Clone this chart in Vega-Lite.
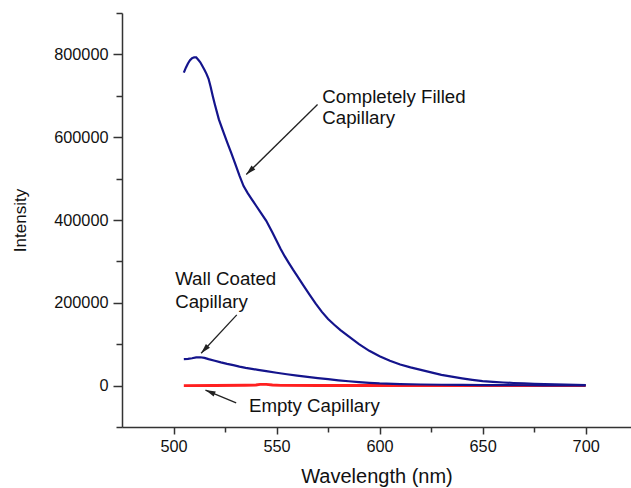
{
  "$schema": "https://vega.github.io/schema/vega-lite/v6.json",
  "width": 509,
  "height": 414,
  "autosize": {"type": "none"},
  "padding": {"left": 122, "top": 13, "right": 0, "bottom": 61},
  "background": "white",
  "config": {"view": {"stroke": null}, "font": "Liberation Sans"},
  "datasets": {
    "spectra": [
      {"series": "empty", "wavelength": 505, "intensity": 0},
      {"series": "empty", "wavelength": 520, "intensity": 300},
      {"series": "empty", "wavelength": 535, "intensity": 800},
      {"series": "empty", "wavelength": 540, "intensity": 1500},
      {"series": "empty", "wavelength": 542, "intensity": 3000},
      {"series": "empty", "wavelength": 545, "intensity": 3000},
      {"series": "empty", "wavelength": 548, "intensity": 1500},
      {"series": "empty", "wavelength": 552, "intensity": 500},
      {"series": "empty", "wavelength": 570, "intensity": 300},
      {"series": "empty", "wavelength": 600, "intensity": 200},
      {"series": "empty", "wavelength": 630, "intensity": 0},
      {"series": "empty", "wavelength": 660, "intensity": 100},
      {"series": "empty", "wavelength": 700, "intensity": 0},
      {"series": "coated", "wavelength": 505, "intensity": 64000},
      {"series": "coated", "wavelength": 507, "intensity": 64500},
      {"series": "coated", "wavelength": 509, "intensity": 66000},
      {"series": "coated", "wavelength": 511, "intensity": 68000},
      {"series": "coated", "wavelength": 513, "intensity": 68500},
      {"series": "coated", "wavelength": 515, "intensity": 67000},
      {"series": "coated", "wavelength": 517, "intensity": 64000},
      {"series": "coated", "wavelength": 520, "intensity": 60000},
      {"series": "coated", "wavelength": 523, "intensity": 56000},
      {"series": "coated", "wavelength": 526, "intensity": 52500},
      {"series": "coated", "wavelength": 529, "intensity": 49500},
      {"series": "coated", "wavelength": 532, "intensity": 46000},
      {"series": "coated", "wavelength": 535, "intensity": 43000},
      {"series": "coated", "wavelength": 538, "intensity": 40500},
      {"series": "coated", "wavelength": 541, "intensity": 38000},
      {"series": "coated", "wavelength": 545, "intensity": 35000},
      {"series": "coated", "wavelength": 550, "intensity": 31000},
      {"series": "coated", "wavelength": 555, "intensity": 27500},
      {"series": "coated", "wavelength": 560, "intensity": 24000},
      {"series": "coated", "wavelength": 565, "intensity": 21000},
      {"series": "coated", "wavelength": 570, "intensity": 18000},
      {"series": "coated", "wavelength": 575, "intensity": 15500},
      {"series": "coated", "wavelength": 580, "intensity": 12800},
      {"series": "coated", "wavelength": 585, "intensity": 10500},
      {"series": "coated", "wavelength": 590, "intensity": 8500},
      {"series": "coated", "wavelength": 595, "intensity": 6800},
      {"series": "coated", "wavelength": 600, "intensity": 5300},
      {"series": "coated", "wavelength": 610, "intensity": 3600},
      {"series": "coated", "wavelength": 620, "intensity": 2700},
      {"series": "coated", "wavelength": 630, "intensity": 2000},
      {"series": "coated", "wavelength": 640, "intensity": 1600},
      {"series": "coated", "wavelength": 650, "intensity": 1200},
      {"series": "coated", "wavelength": 660, "intensity": 1000},
      {"series": "coated", "wavelength": 670, "intensity": 800},
      {"series": "coated", "wavelength": 680, "intensity": 600},
      {"series": "coated", "wavelength": 690, "intensity": 500},
      {"series": "coated", "wavelength": 700, "intensity": 400},
      {"series": "filled", "wavelength": 505, "intensity": 756000},
      {"series": "filled", "wavelength": 506, "intensity": 768000},
      {"series": "filled", "wavelength": 507, "intensity": 778000},
      {"series": "filled", "wavelength": 508, "intensity": 786000},
      {"series": "filled", "wavelength": 509, "intensity": 791000},
      {"series": "filled", "wavelength": 510, "intensity": 793000},
      {"series": "filled", "wavelength": 511, "intensity": 793000},
      {"series": "filled", "wavelength": 512, "intensity": 787000},
      {"series": "filled", "wavelength": 513, "intensity": 781000},
      {"series": "filled", "wavelength": 514, "intensity": 772000},
      {"series": "filled", "wavelength": 515, "intensity": 763000},
      {"series": "filled", "wavelength": 516, "intensity": 753000},
      {"series": "filled", "wavelength": 517, "intensity": 741000},
      {"series": "filled", "wavelength": 518, "intensity": 722000},
      {"series": "filled", "wavelength": 519, "intensity": 700000},
      {"series": "filled", "wavelength": 520, "intensity": 680000},
      {"series": "filled", "wavelength": 522, "intensity": 643000},
      {"series": "filled", "wavelength": 524, "intensity": 615000},
      {"series": "filled", "wavelength": 526, "intensity": 588000},
      {"series": "filled", "wavelength": 528, "intensity": 562000},
      {"series": "filled", "wavelength": 530, "intensity": 535000},
      {"series": "filled", "wavelength": 532, "intensity": 507000},
      {"series": "filled", "wavelength": 534, "intensity": 482000},
      {"series": "filled", "wavelength": 536, "intensity": 465000},
      {"series": "filled", "wavelength": 538, "intensity": 450000},
      {"series": "filled", "wavelength": 540, "intensity": 435000},
      {"series": "filled", "wavelength": 542, "intensity": 420000},
      {"series": "filled", "wavelength": 545, "intensity": 398000},
      {"series": "filled", "wavelength": 548, "intensity": 370000},
      {"series": "filled", "wavelength": 550, "intensity": 350000},
      {"series": "filled", "wavelength": 552, "intensity": 330000},
      {"series": "filled", "wavelength": 554, "intensity": 312000},
      {"series": "filled", "wavelength": 556, "intensity": 296000},
      {"series": "filled", "wavelength": 558, "intensity": 280000},
      {"series": "filled", "wavelength": 560, "intensity": 265000},
      {"series": "filled", "wavelength": 563, "intensity": 242000},
      {"series": "filled", "wavelength": 566, "intensity": 220000},
      {"series": "filled", "wavelength": 569, "intensity": 198000},
      {"series": "filled", "wavelength": 572, "intensity": 178000},
      {"series": "filled", "wavelength": 575, "intensity": 161000},
      {"series": "filled", "wavelength": 578, "intensity": 147000},
      {"series": "filled", "wavelength": 581, "intensity": 134000},
      {"series": "filled", "wavelength": 585, "intensity": 119000},
      {"series": "filled", "wavelength": 590, "intensity": 100000},
      {"series": "filled", "wavelength": 595, "intensity": 84000},
      {"series": "filled", "wavelength": 600, "intensity": 71000},
      {"series": "filled", "wavelength": 605, "intensity": 60000},
      {"series": "filled", "wavelength": 610, "intensity": 51000},
      {"series": "filled", "wavelength": 615, "intensity": 44000},
      {"series": "filled", "wavelength": 620, "intensity": 38000},
      {"series": "filled", "wavelength": 625, "intensity": 32000},
      {"series": "filled", "wavelength": 630, "intensity": 26000},
      {"series": "filled", "wavelength": 635, "intensity": 21500},
      {"series": "filled", "wavelength": 640, "intensity": 17500},
      {"series": "filled", "wavelength": 645, "intensity": 14000},
      {"series": "filled", "wavelength": 650, "intensity": 11000},
      {"series": "filled", "wavelength": 655, "intensity": 9000},
      {"series": "filled", "wavelength": 660, "intensity": 7500},
      {"series": "filled", "wavelength": 665, "intensity": 6300},
      {"series": "filled", "wavelength": 670, "intensity": 5200},
      {"series": "filled", "wavelength": 675, "intensity": 4300},
      {"series": "filled", "wavelength": 680, "intensity": 3500},
      {"series": "filled", "wavelength": 685, "intensity": 2800},
      {"series": "filled", "wavelength": 690, "intensity": 2200},
      {"series": "filled", "wavelength": 695, "intensity": 1600},
      {"series": "filled", "wavelength": 700, "intensity": 1000}
    ],
    "labels": [
      {"text": "Completely Filled", "wavelength": 572.2, "intensity": 683300},
      {"text": "Capillary", "wavelength": 572.2, "intensity": 632500},
      {"text": "Wall Coated", "wavelength": 500.8, "intensity": 243300},
      {"text": "Capillary", "wavelength": 500.8, "intensity": 187700},
      {"text": "Empty Capillary", "wavelength": 536.6, "intensity": -63400}
    ],
    "arrows": [
      {"wavelength": 569.9, "intensity": 679000, "wavelength2": 535.3, "intensity2": 509700, "angle": 225.5},
      {"wavelength": 530.7, "intensity": 170700, "wavelength2": 513.4, "intensity2": 78000, "angle": 222.9},
      {"wavelength": 530.4, "intensity": -41600, "wavelength2": 515.5, "intensity2": -10900, "angle": 292.5}
    ]
  },
  "layer": [
    {
      "data": {"name": "spectra"},
      "transform": [{"filter": "datum.series === 'empty'"}],
      "mark": {"type": "line", "color": "#ff2020", "strokeWidth": 2.8},
      "encoding": {
        "x": {
          "field": "wavelength", "type": "quantitative", "title": "Wavelength (nm)",
          "scale": {"domain": [475, 722], "nice": false, "zero": false},
          "axis": {
            "values": [500, 525, 550, 575, 600, 625, 650, 675, 700],
            "format": "d",
            "labelExpr": "datum.value % 50 === 0 ? datum.label : ''",
            "tickSize": {"condition": {"test": "datum.value % 50 === 0", "value": 7}, "value": 5},
            "tickColor": "#333", "domainColor": "#333", "domainWidth": 1.5, "tickWidth": 1.5,
            "grid": false, "labelFontSize": 16.3, "labelColor": "#111", "labelPadding": 4,
            "labelFlush": false, "labelOverlap": false,
            "titleFontSize": 20, "titleFontWeight": "normal", "titleColor": "#111", "titlePadding": 12
          }
        },
        "y": {
          "field": "intensity", "type": "quantitative", "title": "Intensity",
          "scale": {"domain": [-100000, 900000], "nice": false, "zero": false},
          "axis": {
            "values": [-100000, 0, 100000, 200000, 300000, 400000, 500000, 600000, 700000, 800000, 900000],
            "format": "d",
            "labelExpr": "datum.value % 200000 === 0 && datum.value >= 0 && datum.value <= 800000 ? datum.label : ''",
            "tickSize": {"condition": {"test": "datum.value % 200000 === 0 && datum.value >= 0 && datum.value <= 800000", "value": 9}, "value": 6},
            "tickColor": "#333", "domainColor": "#333", "domainWidth": 1.5, "tickWidth": 1.5,
            "grid": false, "labelFontSize": 16.3, "labelColor": "#111", "labelPadding": 5,
            "labelOverlap": false, "labelFlush": false,
            "titleFontSize": 17, "titleFontWeight": "normal", "titleColor": "#111", "titlePadding": 24
          }
        }
      }
    },
    {
      "data": {"name": "spectra"},
      "transform": [{"filter": "datum.series !== 'empty'"}],
      "mark": {"type": "line", "color": "#14148c", "strokeWidth": 2.2},
      "encoding": {
        "x": {"field": "wavelength", "type": "quantitative", "title": "Wavelength (nm)"},
        "y": {"field": "intensity", "type": "quantitative", "title": "Intensity"},
        "detail": {"field": "series"}
      }
    },
    {
      "data": {"name": "arrows"},
      "mark": {"type": "rule", "color": "#222", "strokeWidth": 1.3},
      "encoding": {
        "x": {"field": "wavelength", "type": "quantitative", "title": "Wavelength (nm)"},
        "y": {"field": "intensity", "type": "quantitative", "title": "Intensity"},
        "x2": {"field": "wavelength2"},
        "y2": {"field": "intensity2"}
      }
    },
    {
      "data": {"name": "arrows"},
      "mark": {"type": "point", "shape": "M0,0 L0.55,2 L-0.55,2 Z", "filled": true, "color": "#222", "opacity": 1, "size": 100},
      "encoding": {
        "x": {"field": "wavelength2", "type": "quantitative", "title": "Wavelength (nm)"},
        "y": {"field": "intensity2", "type": "quantitative", "title": "Intensity"},
        "angle": {"field": "angle", "type": "quantitative", "scale": null}
      }
    },
    {
      "data": {"name": "labels"},
      "mark": {"type": "text", "align": "left", "baseline": "alphabetic", "fontSize": 18.7, "color": "#111"},
      "encoding": {
        "x": {"field": "wavelength", "type": "quantitative", "title": "Wavelength (nm)"},
        "y": {"field": "intensity", "type": "quantitative", "title": "Intensity"},
        "text": {"field": "text"}
      }
    }
  ]
}
